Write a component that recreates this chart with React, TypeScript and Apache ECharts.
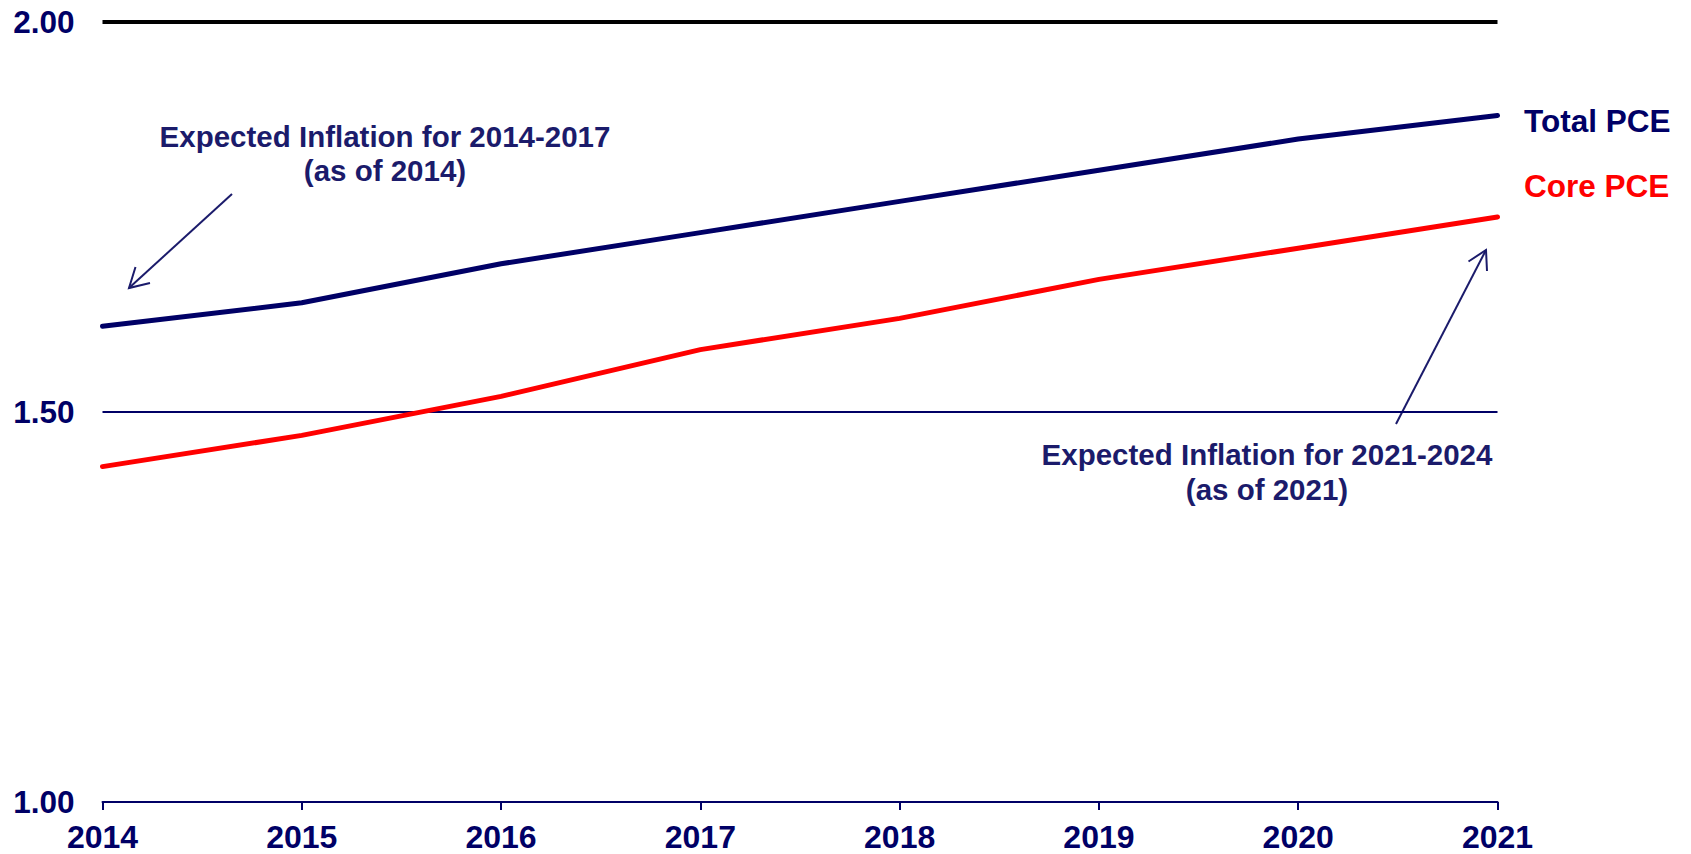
import React, { useEffect, useRef } from "react";
import * as echarts from "echarts";

const years = ["2014", "2015", "2016", "2017", "2018", "2019", "2020", "2021"];
const totalPCE = [1.61, 1.64, 1.69, 1.73, 1.77, 1.81, 1.85, 1.88];
const corePCE = [1.43, 1.47, 1.52, 1.58, 1.62, 1.67, 1.71, 1.75];
const yTicks = [1.0, 1.5, 2.0];

const NAVY = "#000066";
const RED = "#ff0000";
const ANN = "#1b1b6b";
const FONT = "'Liberation Sans', Arial, sans-serif";

export default function App() {
  const ref = useRef<HTMLDivElement>(null);
  useEffect(() => {
    if (!ref.current) return;
    const chart = echarts.init(ref.current, undefined, { renderer: "svg" });
    const textStyle = (t: string, x: number, y: number, color: string, size: number) => ({
      type: "text",
      x,
      y,
      style: {
        text: t,
        fill: color,
        font: `bold ${size}px ${FONT}`,
        align: "center",
        verticalAlign: "middle",
      },
    });
    chart.setOption({
      animation: false,
      backgroundColor: "#ffffff",
      grid: { left: 102.5, right: 193.5, top: 22, bottom: 52, containLabel: false },
      xAxis: {
        type: "category",
        data: years,
        boundaryGap: false,
        axisLine: { lineStyle: { color: NAVY, width: 2 } },
        axisTick: { show: true, length: 8, lineStyle: { color: NAVY, width: 2 } },
        axisLabel: {
          color: NAVY,
          fontFamily: FONT,
          fontWeight: "bold",
          fontSize: 32,
          margin: 19,
        },
        splitLine: { show: false },
      },
      yAxis: {
        type: "value",
        min: yTicks[0],
        max: yTicks[yTicks.length - 1],
        interval: 0.5,
        axisLine: { show: false },
        axisTick: { show: false },
        splitLine: { show: false },
        axisLabel: {
          color: NAVY,
          fontFamily: FONT,
          fontWeight: "bold",
          fontSize: 31.5,
          margin: 28,
          formatter: (v: number) => v.toFixed(2),
        },
      },
      series: [
        {
          name: "Total PCE",
          type: "line",
          data: totalPCE,
          symbol: "none",
          lineStyle: { color: NAVY, width: 5, cap: "round" },
          z: 5,
          markLine: {
            silent: true,
            symbol: "none",
            label: { show: false },
            data: [
              { yAxis: 2.0, lineStyle: { color: "#000000", width: 4, type: "solid" } },
              { yAxis: 1.5, lineStyle: { color: NAVY, width: 2, type: "solid" } },
            ],
          },
        },
        {
          name: "Core PCE",
          type: "line",
          data: corePCE,
          symbol: "none",
          lineStyle: { color: RED, width: 5, cap: "round" },
          z: 5,
        },
      ],
      graphic: [
        {
          type: "text",
          x: 1524,
          y: 121,
          style: {
            text: "Total PCE",
            fill: NAVY,
            font: `bold 31.5px ${FONT}`,
            align: "left",
            verticalAlign: "middle",
          },
        },
        {
          type: "text",
          x: 1524,
          y: 186,
          style: {
            text: "Core PCE",
            fill: RED,
            font: `bold 31.5px ${FONT}`,
            align: "left",
            verticalAlign: "middle",
          },
        },
        textStyle("Expected Inflation for 2014-2017", 385, 136, ANN, 29.5),
        textStyle("(as of 2014)", 385, 170, ANN, 29.5),
        textStyle("Expected Inflation for 2021-2024", 1267, 454, ANN, 29.5),
        textStyle("(as of 2021)", 1267, 489, ANN, 29.5),
        {
          type: "line",
          shape: { x1: 232, y1: 194, x2: 129, y2: 288 },
          style: { stroke: ANN, lineWidth: 2 },
        },
        {
          type: "polyline",
          shape: { points: [[135.5, 267], [129, 288], [150, 283]] },
          style: { stroke: ANN, lineWidth: 2, fill: "none" },
        },
        {
          type: "line",
          shape: { x1: 1396, y1: 424, x2: 1486, y2: 250 },
          style: { stroke: ANN, lineWidth: 2 },
        },
        {
          type: "polyline",
          shape: { points: [[1468.5, 261.5], [1486, 250], [1487, 271]] },
          style: { stroke: ANN, lineWidth: 2, fill: "none" },
        },
      ],
    });
    return () => chart.dispose();
  }, []);
  return (
    <div
      ref={ref}
      style={{ position: "absolute", left: 0, top: 0, width: 1691, height: 854, background: "#fff" }}
    />
  );
}
